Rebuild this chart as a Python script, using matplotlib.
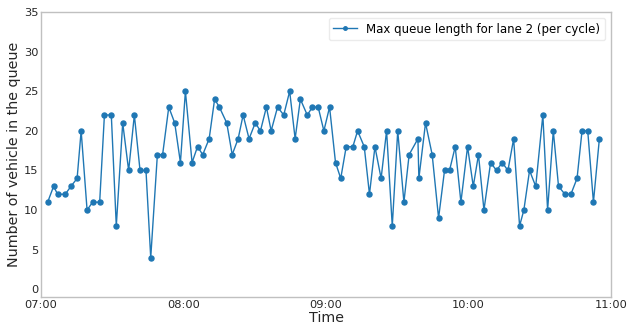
import matplotlib
matplotlib.use("Agg")
import matplotlib.pyplot as plt
import matplotlib.dates as mdates
import numpy as np
import pandas as pd

# minutes after 07:00 for each cycle
minutes = [2.8, 5.3, 7.0, 10.2, 12.6, 15.2, 16.9, 19.4, 21.7, 24.7,
           26.7, 29.6, 31.7, 34.4, 36.9, 39.3, 41.7, 44.2, 46.2, 49.0,
           51.2, 53.8, 56.3, 58.7, 60.8, 63.6, 65.9, 68.1, 70.8, 73.1,
           75.1, 78.2, 80.5, 83.0, 85.1, 87.6, 90.2, 92.4, 94.9, 96.9,
           99.6, 102.2, 104.7, 107.0, 109.2, 112.1, 114.3, 116.7, 119.1, 121.5,
           124.0, 126.2, 128.5, 131.3, 133.3, 136.1, 138.3, 140.6, 143.2, 145.5,
           147.9, 150.2, 152.8, 155.0, 158.7, 159.1, 161.9, 164.7, 167.4, 169.9,
           172.0, 174.4, 176.8, 179.6, 182.0, 184.2, 186.5, 189.3, 191.8, 194.2,
           196.6, 199.0, 201.5, 203.3, 205.7, 208.3, 211.3, 213.3, 215.7, 217.9,
           220.6, 223.1, 225.7, 227.8, 230.2, 232.6, 235.1]
queue = [11, 13, 12, 12, 13, 14, 20, 10, 11, 11,
         22, 22, 8, 21, 15, 22, 15, 15, 4, 17,
         17, 23, 21, 16, 25, 16, 18, 17, 19, 24,
         23, 21, 17, 19, 22, 19, 21, 20, 23, 20,
         23, 22, 25, 19, 24, 22, 23, 23, 20, 23,
         16, 14, 18, 18, 20, 18, 12, 18, 14, 20,
         8, 20, 11, 17, 19, 14, 21, 17, 9, 15,
         15, 18, 11, 18, 13, 17, 10, 16, 15, 16,
         15, 19, 8, 10, 15, 13, 22, 10, 20, 13,
         12, 12, 14, 20, 20, 11, 19]
series_label = "Max queue length for lane 2 (per cycle)"
x_label = "Time"
y_label = "Number of vehicle in the queue"

start = pd.Timestamp("2020-01-01 07:00")
times = [start + pd.Timedelta(minutes=m) for m in minutes]

fig = plt.figure(figsize=(6.27, 3.27), dpi=100)
ax = fig.add_axes([0.0654, 0.0909, 0.9091, 0.8724])
ax.plot(times, queue, color="#1f77b4", marker="o", markersize=3.6,
        linewidth=1.0, label=series_label)

ax.set_xlim(start, start + pd.Timedelta(hours=4))
ax.set_ylim(-1, 35)
ax.set_yticks(range(0, 36, 5))
ax.xaxis.set_major_locator(mdates.HourLocator())
ax.xaxis.set_major_formatter(mdates.DateFormatter("%H:%M"))
ax.tick_params(axis="both", length=0, labelsize=8.2, pad=2, colors="#262626")
for s in ax.spines.values():
    s.set_color("#c0c0c0")
    s.set_linewidth(1.0)
ax.set_xlabel(x_label, fontsize=10.3, color="#262626", labelpad=1)
ax.set_ylabel(y_label, fontsize=10.3, color="#262626", labelpad=2)
leg = ax.legend(loc="upper right", fontsize=8.5, markerscale=0.7, frameon=True)
leg.get_frame().set_edgecolor("#e6e6e6")

fig.savefig("out.png", dpi=100)
